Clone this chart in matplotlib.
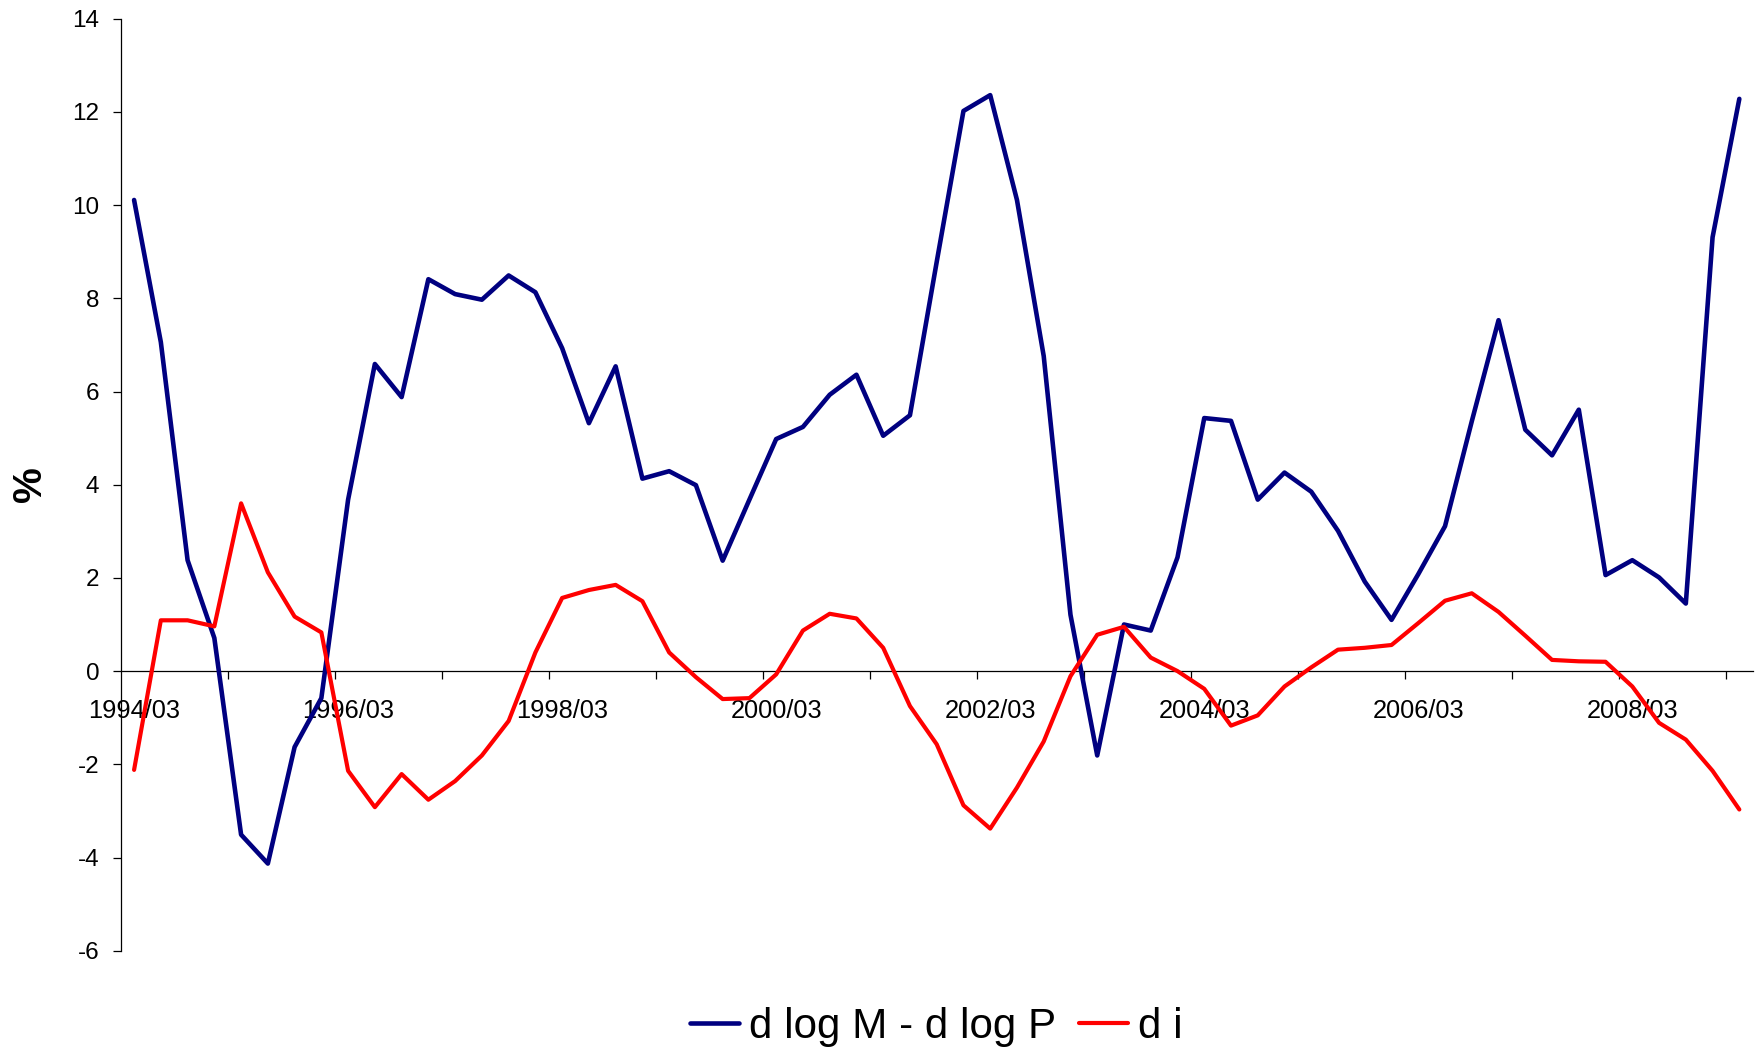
import matplotlib
matplotlib.use("Agg")
import matplotlib.pyplot as plt
from matplotlib.ticker import FixedLocator, FixedFormatter

plt.rcParams["font.family"] = ["Liberation Sans", "DejaVu Sans"]

# Quarterly observations, 1994/03 .. 2009/03
quarters = [f"{y}/{m:02d}" for y in range(1994, 2010) for m in (3, 6, 9, 12)][:61]

real_money = [
    10.11, 7.06, 2.38, 0.71, -3.51, -4.13, -1.63, -0.58, 3.68, 6.59,
    5.88, 8.41, 8.09, 7.97, 8.49, 8.13, 6.93, 5.32, 6.54, 4.13,
    4.29, 3.99, 2.37, 3.68, 4.98, 5.24, 5.93, 6.36, 5.05, 5.49,
    8.78, 12.02, 12.36, 10.11, 6.76, 1.21, -1.81, 1.00, 0.87, 2.44,
    5.43, 5.37, 3.68, 4.26, 3.85, 3.01, 1.92, 1.10, 2.08, 3.11,
    5.36, 7.53, 5.18, 4.63, 5.61, 2.06, 2.38, 2.01, 1.45, 9.31,
    12.28,
]

rate_change = [
    -2.12, 1.09, 1.09, 0.96, 3.60, 2.12, 1.17, 0.83, -2.14, -2.92,
    -2.21, -2.76, -2.36, -1.81, -1.07, 0.40, 1.57, 1.74, 1.85, 1.50,
    0.40, -0.13, -0.60, -0.58, -0.07, 0.87, 1.23, 1.13, 0.50, -0.75,
    -1.57, -2.88, -3.38, -2.50, -1.51, -0.11, 0.78, 0.95, 0.29, 0.00,
    -0.38, -1.17, -0.95, -0.33, 0.08, 0.46, 0.50, 0.56, 1.03, 1.51,
    1.67, 1.27, 0.76, 0.24, 0.21, 0.20, -0.33, -1.11, -1.47, -2.14,
    -2.97,
]

series_names = ["d log M - d log P", "d i"]
y_ticks = list(range(-6, 15, 2))

W, H = 1760, 1054
fig = plt.figure(figsize=(W / 100, H / 100), dpi=100)
ax = fig.add_axes([120.7 / W, 1 - 950.7 / H, (1752.7 - 120.7) / W, (950.7 - 18.7) / H])

x = list(range(len(quarters)))
l1, = ax.plot(x, real_money, color="#000080", lw=3.3, solid_joinstyle="round",
              solid_capstyle="round", label=series_names[0], zorder=3)
l2, = ax.plot(x, rate_change, color="#FF0000", lw=3.0, solid_joinstyle="round",
              solid_capstyle="round", label=series_names[1], zorder=3)

ax.set_xlim(-0.5, len(quarters) - 0.5)
ax.set_ylim(-6, 14)

for s in ("top", "right"):
    ax.spines[s].set_visible(False)
ax.spines["bottom"].set_position(("data", 0))
ax.spines["bottom"].set_linewidth(0.9)
ax.spines["left"].set_linewidth(0.9)

# y axis
ax.set_yticks(y_ticks)
ax.set_yticklabels([str(v) for v in y_ticks])
ax.tick_params(axis="y", direction="out", length=6, width=0.9, pad=9.5,
               labelsize=17.5)

# x axis: tick marks every 4 quarters at category boundaries, labels every 8 quarters
major_pos = [i - 0.5 for i in range(4, len(quarters) + 1, 4)]
label_idx = list(range(0, len(quarters), 8))
ax.xaxis.set_major_locator(FixedLocator(major_pos))
ax.xaxis.set_major_formatter(FixedFormatter([""] * len(major_pos)))
ax.xaxis.set_minor_locator(FixedLocator(label_idx))
ax.xaxis.set_minor_formatter(FixedFormatter([quarters[i] for i in label_idx]))
ax.tick_params(axis="x", which="major", direction="out", length=6, width=0.9)
ax.tick_params(axis="x", which="minor", length=0, pad=20, labelsize=18.3)

fig.text(30 / W, 1 - 484 / H, "%", rotation=90, ha="center", va="center",
         fontsize=29, fontweight="bold")

fig.legend(handles=[l1, l2], labels=series_names, loc="center",
           bbox_to_anchor=(936 / W, 1 - 1027 / H), ncol=2, frameon=False,
           fontsize=30.3, handlelength=1.18, handletextpad=0.22,
           columnspacing=0.55, borderaxespad=0)

fig.savefig("out.png", dpi=100)
